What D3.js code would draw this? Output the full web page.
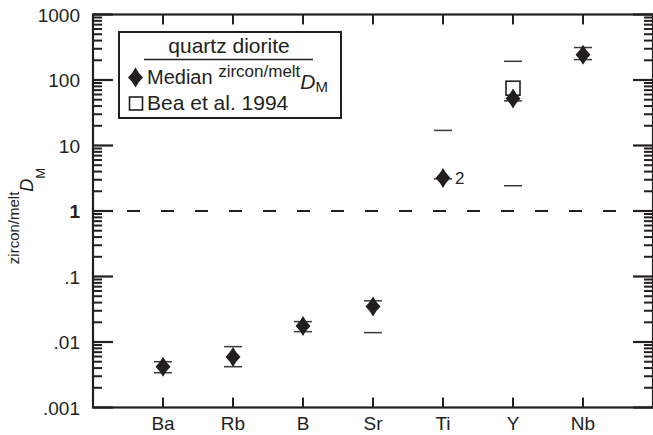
<!DOCTYPE html>
<html>
<head>
<meta charset="utf-8">
<script src="https://cdn.jsdelivr.net/npm/d3@7"></script>
<style>
  body { margin: 0; background: #fff; }
  svg { display: block; font-family: "Liberation Sans", Arial, sans-serif; }
</style>
</head>
<body>
<div id="chart"></div>
<script>
// elements along the x axis
var elements = ["Ba", "Rb", "B", "Sr", "Ti", "Y", "Nb"];
// median zircon/melt D, and the horizontal bars drawn for each element
var median  = [0.0042, 0.0059, 0.0176, 0.0347, 3.2, 52, 244];
var barHigh = [0.0050, 0.0085, 0.0205, 0.0425, 17, 193, 313];
var barLow  = [0.0034, 0.0042, 0.0144, 0.0139, 3.1, 2.43, 205];
var barMid  = [null, null, null, null, null, 48, null];
var notes   = ["", "", "", "", "2", "", ""];
// Bea et al. 1994
var beaElements = ["Y"];
var beaValues = [75];
var yTickLabels = [".001", ".01", ".1", "1", "10", "100", "1000"];

var width = 653, height = 435;
var pLeft = 93, pRight = 653, pTop = 14.5, pBottom = 407.5;
var ink = "#231f20";

var svg = d3.select("#chart").append("svg")
    .attr("width", width)
    .attr("height", height);

var x = d3.scaleLinear().domain([0, elements.length + 1]).range([pLeft, pRight]);
var y = d3.scaleLog().domain([0.001, 1000]).range([pBottom, pTop]);
function xi(name) { return x(elements.indexOf(name) + 1); }

// log ticks, major and minor
var majors = d3.range(-3, 4).map(function(p) { return Math.pow(10, p); });
var minors = [];
majors.slice(0, -1).forEach(function(m) {
    for (var k = 2; k <= 9; k++) minors.push(m * k);
});

// dashed line at D = 1
svg.append("line")
    .attr("x1", pLeft).attr("x2", pRight)
    .attr("y1", y(1)).attr("y2", y(1))
    .style("stroke", ink).style("stroke-width", 2)
    .style("stroke-dasharray", "13,21");

// left and right axis ticks (pointing into the plot)
[[pLeft, 1], [pRight, -1]].forEach(function(side) {
    var ax = side[0], dir = side[1];
    svg.selectAll(null).data(majors).enter().append("line")
        .attr("x1", ax).attr("x2", ax + dir * 20)
        .attr("y1", function(d) { return y(d); })
        .attr("y2", function(d) { return y(d); })
        .style("stroke", ink).style("stroke-width", 2.2);
    svg.selectAll(null).data(minors).enter().append("line")
        .attr("x1", ax).attr("x2", ax + dir * 9)
        .attr("y1", function(d) { return y(d); })
        .attr("y2", function(d) { return y(d); })
        .style("stroke", ink).style("stroke-width", 2);
});

// top and bottom ticks at each element
svg.selectAll(null).data(elements).enter().append("line")
    .attr("x1", xi).attr("x2", xi)
    .attr("y1", pTop).attr("y2", pTop + 10)
    .style("stroke", ink).style("stroke-width", 2);
svg.selectAll(null).data(elements).enter().append("line")
    .attr("x1", xi).attr("x2", xi)
    .attr("y1", pBottom).attr("y2", pBottom - 10)
    .style("stroke", ink).style("stroke-width", 2);

// frame
svg.append("rect")
    .attr("x", pLeft).attr("y", pTop)
    .attr("width", pRight - pLeft).attr("height", pBottom - pTop)
    .style("fill", "none").style("stroke", ink).style("stroke-width", 2.2);

// y tick labels
svg.selectAll(null).data(majors).enter().append("text")
    .attr("x", 80)
    .attr("y", function(d) { return y(d) + 7; })
    .attr("text-anchor", "end")
    .style("font-size", "19px").style("fill", ink)
    .style("font-weight", function(d) { return d === 1 ? "bold" : "normal"; })
    .text(function(d, i) { return yTickLabels[i]; });

// x tick labels
svg.selectAll(null).data(elements).enter().append("text")
    .attr("x", xi)
    .attr("y", 430)
    .attr("text-anchor", "middle")
    .style("font-size", "19px").style("fill", ink)
    .text(function(d) { return d; });

// y axis title
var ytitle = svg.append("text")
    .attr("transform", "translate(33,216) rotate(-90)")
    .attr("text-anchor", "middle")
    .style("fill", ink);
ytitle.append("tspan").attr("dy", -14).style("font-size", "15px").text("zircon/melt");
ytitle.append("tspan").attr("dy", 14).style("font-size", "18px").style("font-style", "italic").text("D");
ytitle.append("tspan").attr("dy", 12).style("font-size", "13px").text("M");

// horizontal bars
function bars(vals) {
    var pts = [];
    vals.forEach(function(v, i) { if (v != null) pts.push([elements[i], v]); });
    svg.selectAll(null).data(pts).enter().append("line")
        .attr("x1", function(d) { return xi(d[0]) - 9; })
        .attr("x2", function(d) { return xi(d[0]) + 9; })
        .attr("y1", function(d) { return y(d[1]); })
        .attr("y2", function(d) { return y(d[1]); })
        .style("stroke", "#3a3a3a").style("stroke-width", 1.5);
}
bars(barHigh);
bars(barLow);
bars(barMid);

// Bea et al. squares
svg.selectAll(null).data(beaValues).enter().append("rect")
    .attr("x", function(d, i) { return xi(beaElements[i]) - 7; })
    .attr("y", function(d) { return y(d) - 7; })
    .attr("width", 14).attr("height", 14)
    .style("fill", "white").style("stroke", ink).style("stroke-width", 1.6);

// median diamonds
var diamond = "M0,-10 Q3,-4.2 7.5,0 Q3,4.2 0,10 Q-3,4.2 -7.5,0 Q-3,-4.2 0,-10 Z";
svg.selectAll(null).data(median).enter().append("path")
    .attr("d", diamond)
    .attr("transform", function(d, i) { return "translate(" + xi(elements[i]) + "," + y(d) + ")"; })
    .style("fill", ink);

svg.selectAll(null).data(median).enter().append("text")
    .attr("x", function(d, i) { return xi(elements[i]) + 12; })
    .attr("y", function(d) { return y(d) + 6; })
    .style("font-size", "17px").style("fill", ink)
    .text(function(d, i) { return notes[i]; });

// legend
var lg = svg.append("g");
lg.append("rect")
    .attr("x", 119).attr("y", 32).attr("width", 222).attr("height", 86)
    .style("fill", "white").style("stroke", ink).style("stroke-width", 2);
lg.append("text")
    .attr("x", 229).attr("y", 53)
    .attr("text-anchor", "middle")
    .style("font-size", "21px").style("fill", ink)
    .text("quartz diorite");
lg.append("line")
    .attr("x1", 144).attr("x2", 313).attr("y1", 59.5).attr("y2", 59.5)
    .style("stroke", ink).style("stroke-width", 1.6);
lg.append("path")
    .attr("d", diamond)
    .attr("transform", "translate(135.5,77.5)")
    .style("fill", ink);
var lt = lg.append("text")
    .attr("x", 147).attr("y", 84)
    .style("fill", ink);
lt.append("tspan").style("font-size", "20px").text("Median ");
lt.append("tspan").attr("dy", -7).style("font-size", "17px").text("zircon/melt");
lt.append("tspan").attr("dy", 12).style("font-size", "21px").style("font-style", "italic").text("D");
lt.append("tspan").attr("dy", 3).style("font-size", "15px").text("M");
lg.append("rect")
    .attr("x", 129.5).attr("y", 97).attr("width", 13).attr("height", 13)
    .style("fill", "white").style("stroke", ink).style("stroke-width", 1.6);
lg.append("text")
    .attr("x", 147).attr("y", 110)
    .style("font-size", "21px").style("fill", ink)
    .text("Bea et al. 1994");
</script>
</body>
</html>
